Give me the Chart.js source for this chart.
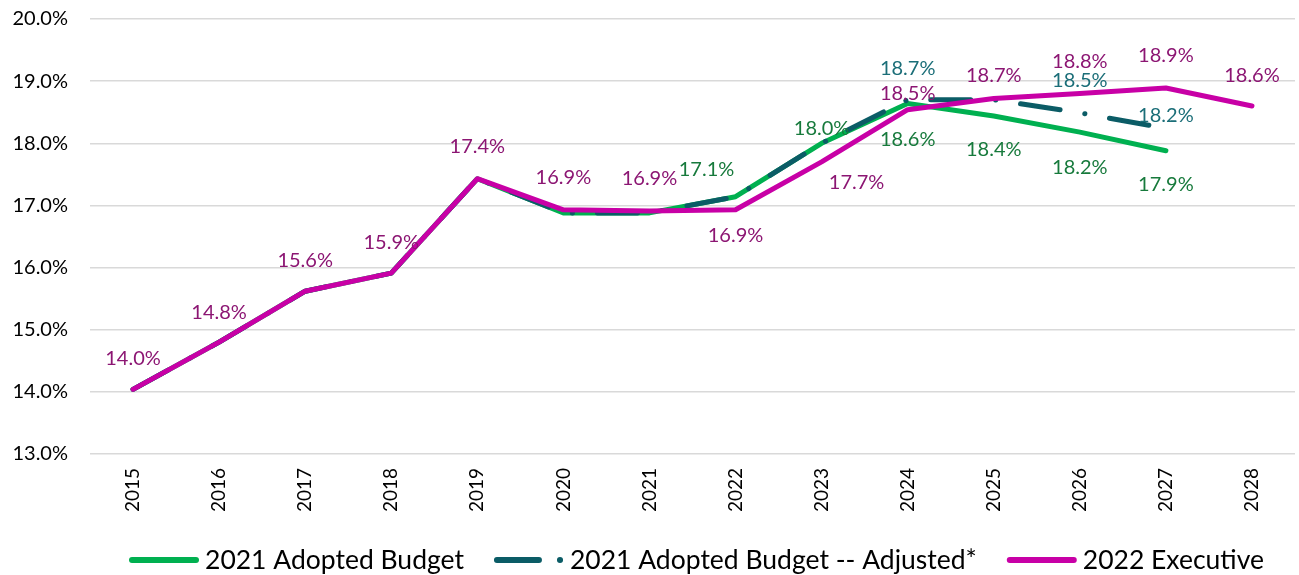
<!DOCTYPE html>
<html>
<head>
<meta charset="utf-8">
<script src="https://cdn.jsdelivr.net/npm/chart.js@4"></script>
<style>
  html, body { margin: 0; padding: 0; background: #ffffff; }
  #chart { display: block; }
</style>
</head>
<body>
<canvas id="chart" width="1299" height="575"></canvas>
<script>
// data
const years = ['2015', '2016', '2017', '2018', '2019', '2020', '2021', '2022', '2023', '2024', '2025', '2026', '2027', '2028'];
const adopted = [14.04, 14.80, 15.62, 15.91, 17.43, 16.88, 16.88, 17.14, 18.00, 18.64, 18.44, 18.18, 17.88, null];
const adjusted = [14.04, 14.80, 15.62, 15.91, 17.43, 16.88, 16.88, 17.14, 18.00, 18.70, 18.70, 18.49, 18.24, null];
const executive = [14.04, 14.80, 15.62, 15.91, 17.43, 16.93, 16.91, 16.93, 17.70, 18.54, 18.72, 18.80, 18.89, 18.60];
const seriesNames = ['2021 Adopted Budget', '2021 Adopted Budget -- Adjusted*', '2022 Executive'];

// label placement (offset from the point, px). null = no label
const adoptedLabelPos = [null, null, null, null, null, null, null, [-29, -27], [0, -15], [0, 36], [0, 34], [0, 35], [0, 34], null];
const adjustedLabelPos = [null, null, null, null, null, null, null, null, null, [0, -31], null, [0, -32], [0, -13], null];
const executiveLabelPos = [[0, -31], [0, -30], [0, -31], [0, -31], [0, -32], [0, -32], [0, -32], [0, 26], [35, 21], [0, -16], [0, -23], [0, -32], [0, -32], [0, -30]];

const FONT = 'Lato, "Open Sans", sans-serif';
const LEGEND_H = 40;

//etiquetas de datos
const dataLabels = {
    id: 'dataLabels',
    afterDatasetsDraw(chart) {
        const { ctx } = chart;
        ctx.save();
        ctx.font = '20px ' + FONT;
        ctx.textAlign = 'center';
        ctx.textBaseline = 'middle';
        chart.data.datasets.forEach((ds, i) => {
            const meta = chart.getDatasetMeta(i);
            ds.labelPos.forEach((p, j) => {
                if (!p || ds.data[j] == null) return;
                const pt = meta.data[j];
                ctx.fillStyle = ds.labelColor;
                ctx.fillText(ds.data[j].toFixed(1) + '%', pt.x + p[0], pt.y + p[1]);
            });
        });
        ctx.restore();
    }
};

//leyenda abajo
const bottomLegend = {
    id: 'bottomLegend',
    afterDraw(chart) {
        const { ctx, chartArea } = chart;
        const ds = chart.data.datasets;
        const lineW = 70, gapText = 6, gapItem = 30;
        ctx.save();
        ctx.font = '26.5px ' + FONT;
        ctx.textBaseline = 'middle';
        let total = 0;
        ds.forEach((d, i) => {
            total += lineW + gapText + ctx.measureText(d.label).width;
            if (i < ds.length - 1) total += gapItem;
        });
        let x = (chartArea.left + chartArea.right) / 2 + 4 - total / 2;
        const y = 560;
        ds.forEach((d) => {
            ctx.beginPath();
            ctx.strokeStyle = d.borderColor;
            ctx.lineWidth = 6;
            ctx.lineCap = 'round';
            ctx.setLineDash(d.legendDash || []);
            ctx.moveTo(x + 3, y);
            ctx.lineTo(x + lineW - 3, y);
            ctx.stroke();
            ctx.setLineDash([]);
            x += lineW + gapText;
            ctx.fillStyle = '#000000';
            ctx.fillText(d.label, x, y);
            x += ctx.measureText(d.label).width + gapItem;
        });
        ctx.restore();
    }
};

const config = {
    type: 'line',
    data: {
        labels: years,
        datasets: [{
            label: seriesNames[0],
            data: adopted,
            borderColor: '#00b050',
            backgroundColor: '#00b050',
            borderWidth: 5,
            borderCapStyle: 'round',
            borderJoinStyle: 'round',
            labelColor: '#177a3c',
            labelPos: adoptedLabelPos,
            order: 3
        }, {
            label: seriesNames[1],
            data: adjusted,
            borderColor: '#0b5c66',
            backgroundColor: '#0b5c66',
            borderWidth: 5,
            borderCapStyle: 'round',
            borderJoinStyle: 'round',
            borderDash: [40, 25, 0.1, 25],
            legendDash: [42, 21, 0.1, 30],
            labelColor: '#1b6e78',
            labelPos: adjustedLabelPos,
            order: 2
        }, {
            label: seriesNames[2],
            data: executive,
            borderColor: '#c800a6',
            backgroundColor: '#c800a6',
            borderWidth: 5,
            borderCapStyle: 'round',
            borderJoinStyle: 'round',
            labelColor: '#8c1673',
            labelPos: executiveLabelPos,
            order: 1
        }]
    },
    options: {
        responsive: false,
        animation: false,
        elements: {
            point: { radius: 0 },
            line: { tension: 0 }
        },
        layout: {
            autoPadding: false,
            padding: { top: 19, right: 4, bottom: LEGEND_H, left: 0 }
        },
        scales: {
            x: {
                offset: true,
                grid: { display: false },
                border: { display: false },
                ticks: {
                    color: '#000000',
                    font: { family: FONT, size: 19 },
                    maxRotation: 90,
                    minRotation: 90,
                    padding: 6
                },
                afterFit(scale) {
                    scale.height = 575 - 454 - LEGEND_H;
                }
            },
            y: {
                min: 13,
                max: 20,
                border: { display: false },
                grid: { color: '#d9d9d9', lineWidth: 1.5, drawTicks: false },
                ticks: {
                    stepSize: 1,
                    color: '#000000',
                    font: { family: FONT, size: 20 },
                    padding: 22,
                    callback: (v) => v.toFixed(1) + '%'
                },
                afterFit(scale) {
                    scale.width = 90;
                    scale.paddingTop = 0;
                    scale.paddingBottom = 0;
                }
            }
        },
        plugins: {
            legend: { display: false },
            tooltip: { enabled: false }
        }
    },
    plugins: [dataLabels, bottomLegend]
};

var chart = document.getElementById('chart');
var myChart = new Chart(chart, config);
</script>
</body>
</html>
